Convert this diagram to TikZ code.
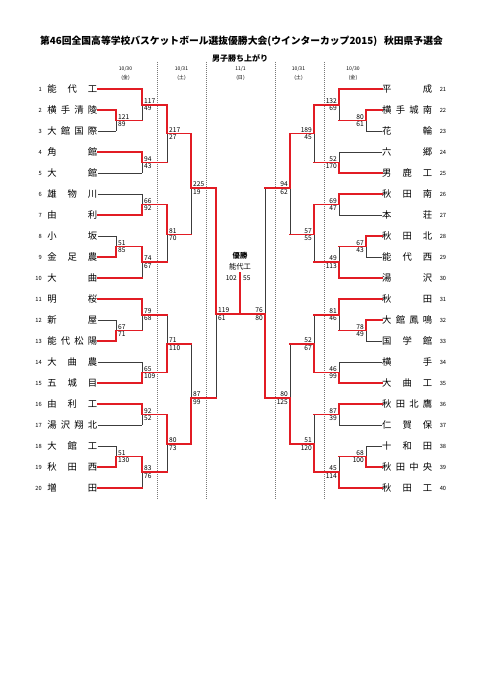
\documentclass[tikz,border=0pt]{standalone}
\usepackage{fontspec}
\setmainfont{Noto Sans CJK JP}
\definecolor{wred}{RGB}{226,28,36}
\definecolor{lgray}{RGB}{60,60,60}
\definecolor{dgray}{RGB}{120,120,120}
\pgfdeclarelayer{front}
\pgfsetlayers{main,front}
\tikzset{
  gl/.style={draw=lgray, line width=0.7pt},
  rl/.style={draw=wred, line width=1.25pt, line cap=rect},
  dotl/.style={draw=dgray, line width=0.5pt, densely dotted},
  sc/.style={font=\fontsize{5}{5.5}\selectfont, inner xsep=1.4pt, inner ysep=0.8pt},
  numf/.style={font=\fontsize{4.3}{5}\selectfont, inner sep=0pt},
  tnf/.style={font=\fontsize{7}{8}\selectfont, inner sep=0pt},
  datef/.style={font=\fontsize{3.8}{4}\selectfont, inner sep=0pt},
}
\newcommand\hf{\hfill{}}
% left team: index, name, x end, r/g
\newcommand\tL[4]{%
  \pgfmathsetmacro\yy{89+21*(#1-1)}%
  \node[numf, anchor=east] (nL#1) at (42,\yy) {#1};
  \node[tnf, anchor=west] (tL#1) at (47,\yy) {\makebox[37.5pt]{#2}};
  \ifx r#4
    \begin{pgfonlayer}{front}\draw[rl] (tL#1.east) -- (#3,\yy);\end{pgfonlayer}
  \else
    \draw[gl] (tL#1.east) -- (#3,\yy);
  \fi
}
\newcommand\tR[4]{%
  \pgfmathsetmacro\yy{89+21*(#1-21)}%
  \node[numf, anchor=west] (nR#1) at (439.5,\yy) {#1};
  \node[tnf, anchor=east] (tR#1) at (432.5,\yy) {\makebox[37.5pt]{#2}};
  \ifx r#4
    \begin{pgfonlayer}{front}\draw[rl] (tR#1.west) -- (#3,\yy);\end{pgfonlayer}
  \else
    \draw[gl] (tR#1.west) -- (#3,\yy);
  \fi
}
% match: x, ytop, ybot, yjoin, xnext, score top, score bottom, winner t/b
\newcommand\mL[8]{%
  \ifx t#8
    \draw[gl] (#1,#4) -- (#1,#3);
    \begin{pgfonlayer}{front}\draw[rl] (#1,#2) -- (#1,#4) -- (#5,#4);\end{pgfonlayer}
  \else
    \draw[gl] (#1,#2) -- (#1,#4);
    \begin{pgfonlayer}{front}\draw[rl] (#1,#3) -- (#1,#4) -- (#5,#4);\end{pgfonlayer}
  \fi
  \node[sc, anchor=south west] at (#1,#4) {#6};
  \node[sc, anchor=north west] at (#1,#4) {#7};
}
\newcommand\mR[8]{%
  \ifx t#8
    \draw[gl] (#1,#4) -- (#1,#3);
    \begin{pgfonlayer}{front}\draw[rl] (#1,#2) -- (#1,#4) -- (#5,#4);\end{pgfonlayer}
  \else
    \draw[gl] (#1,#2) -- (#1,#4);
    \begin{pgfonlayer}{front}\draw[rl] (#1,#3) -- (#1,#4) -- (#5,#4);\end{pgfonlayer}
  \fi
  \node[sc, anchor=south east] at (#1,#4) {#6};
  \node[sc, anchor=north east] at (#1,#4) {#7};
}
\begin{document}
\begin{tikzpicture}[x=0.75pt,y=-0.75pt]
\fill[white] (0,0) rectangle (481,680);
\useasboundingbox (0,0) rectangle (481,680);

% title
\node[inner sep=0pt, font=\bfseries] (title) at (241.5,41)
  {\resizebox{302pt}{!}{第46回全国高等学校バスケットボール選抜優勝大会(ウインターカップ2015)\hspace{0.7em}秋田県予選会}};
\node[inner sep=0pt, font=\bfseries\fontsize{6}{7}\selectfont] (sub) at (240,58) {男子勝ち上がり};

% dates
\node[datef] (d1) at (125.5,69) {10/30}; \node[datef] (w1) at (125.5,78) {(金)};
\node[datef] (d2) at (181.5,69) {10/31}; \node[datef] (w2) at (181.5,78) {(土)};
\node[datef] (d3) at (240.5,69) {11/1};  \node[datef] (w3) at (240.5,78) {(日)};
\node[datef] (d4) at (298.5,69) {10/31}; \node[datef] (w4) at (298.5,78) {(土)};
\node[datef] (d5) at (353,69) {10/30};   \node[datef] (w5) at (353,78) {(金)};

% dotted separators
\foreach \x in {157,206,275,324} \draw[dotl] (\x,62) -- (\x,500);

% left teams
\tL{1}{能\hf 代\hf 工}{142}{r}
\tL{2}{横\hf 手\hf 清\hf 陵}{116}{r}
\tL{3}{大\hf 館\hf 国\hf 際}{116}{g}
\tL{4}{角\hf 館}{142}{r}
\tL{5}{大\hf 館}{142}{g}
\tL{6}{雄\hf 物\hf 川}{142}{g}
\tL{7}{由\hf 利}{142}{r}
\tL{8}{小\hf 坂}{116}{g}
\tL{9}{金\hf 足\hf 農}{116}{r}
\tL{10}{大\hf 曲}{142}{r}
\tL{11}{明\hf 桜}{142}{r}
\tL{12}{新\hf 屋}{116}{g}
\tL{13}{能\hf 代\hf 松\hf 陽}{116}{r}
\tL{14}{大\hf 曲\hf 農}{142}{g}
\tL{15}{五\hf 城\hf 目}{142}{r}
\tL{16}{由\hf 利\hf 工}{142}{r}
\tL{17}{湯\hf 沢\hf 翔\hf 北}{142}{g}
\tL{18}{大\hf 館\hf 工}{116}{g}
\tL{19}{秋\hf 田\hf 西}{116}{r}
\tL{20}{増\hf 田}{142}{r}

% right teams
\tR{21}{平\hf 成}{339}{r}
\tR{22}{横\hf 手\hf 城\hf 南}{366}{r}
\tR{23}{花\hf 輪}{366}{g}
\tR{24}{六\hf 郷}{339}{g}
\tR{25}{男\hf 鹿\hf 工}{339}{r}
\tR{26}{秋\hf 田\hf 南}{339}{r}
\tR{27}{本\hf 荘}{339}{g}
\tR{28}{秋\hf 田\hf 北}{366}{r}
\tR{29}{能\hf 代\hf 西}{366}{g}
\tR{30}{湯\hf 沢}{339}{r}
\tR{31}{秋\hf 田}{339}{r}
\tR{32}{大\hf 館\hf 鳳\hf 鳴}{366}{r}
\tR{33}{国\hf 学\hf 館}{366}{g}
\tR{34}{横\hf 手}{339}{g}
\tR{35}{大\hf 曲\hf 工}{339}{r}
\tR{36}{秋\hf 田\hf 北\hf 鷹}{339}{r}
\tR{37}{仁\hf 賀\hf 保}{339}{g}
\tR{38}{十\hf 和\hf 田}{366}{g}
\tR{39}{秋\hf 田\hf 中\hf 央}{366}{r}
\tR{40}{秋\hf 田\hf 工}{339}{r}

% left round 1
\mL{116}{110}{131}{120.5}{142}{121}{89}{t}
\mL{116}{236}{257}{246.5}{142}{51}{85}{b}
\mL{116}{320}{341}{330.5}{142}{67}{71}{b}
\mL{116}{446}{467}{456.5}{142}{51}{130}{b}
% left round 2
\mL{142}{89}{120.5}{104.75}{167}{117}{49}{t}
\mL{142}{152}{173}{162.5}{167}{94}{43}{t}
\mL{142}{194}{215}{204.5}{167}{66}{92}{b}
\mL{142}{246.5}{278}{262.25}{167}{74}{67}{t}
\mL{142}{299}{330.5}{314.75}{167}{79}{68}{t}
\mL{142}{362}{383}{372.5}{167}{65}{109}{b}
\mL{142}{404}{425}{414.5}{167}{92}{52}{t}
\mL{142}{456.5}{488}{472.25}{167}{83}{76}{t}
% left round 3
\mL{167}{104.75}{162.5}{133.5}{191}{217}{27}{t}
\mL{167}{204.5}{262.25}{234.5}{191}{81}{70}{t}
\mL{167}{314.75}{372.5}{344}{191}{71}{110}{b}
\mL{167}{414.5}{472.25}{444}{191}{80}{73}{t}
% left round 4
\mL{191}{133.5}{234.5}{188}{216}{225}{19}{t}
\mL{191}{344}{444}{398}{216}{87}{99}{b}
% left semifinal
\mL{216}{188}{398}{314}{240}{119}{61}{t}

% right round 1
\mR{366}{110}{131}{120.5}{339}{80}{61}{t}
\mR{366}{236}{257}{246.5}{339}{67}{43}{t}
\mR{366}{320}{341}{330.5}{339}{78}{49}{t}
\mR{366}{446}{467}{456.5}{339}{68}{100}{b}
% right round 2
\mR{339}{89}{120.5}{104.75}{314}{132}{69}{t}
\mR{339}{152}{173}{162.5}{314}{52}{170}{b}
\mR{339}{194}{215}{204.5}{314}{69}{47}{t}
\mR{339}{246.5}{278}{262.25}{314}{49}{113}{b}
\mR{339}{299}{330.5}{314.75}{314}{81}{46}{t}
\mR{339}{362}{383}{372.5}{314}{46}{99}{b}
\mR{339}{404}{425}{414.5}{314}{87}{39}{t}
\mR{339}{456.5}{488}{472.25}{314}{45}{114}{b}
% right round 3
\mR{314}{104.75}{162.5}{133.5}{290}{189}{45}{t}
\mR{314}{204.5}{262.25}{234.5}{290}{57}{55}{t}
\mR{314}{314.75}{372.5}{344}{290}{52}{67}{b}
\mR{314}{414.5}{472.25}{444}{290}{51}{120}{b}
% right round 4
\mR{290}{133.5}{234.5}{188}{265}{94}{62}{t}
\mR{290}{344}{444}{398}{265}{80}{125}{b}
% right semifinal
\mR{265}{188}{398}{314}{240}{76}{80}{b}

% final
\coordinate (fin) at (240,273);
\coordinate (fbase) at (240,314);
\begin{pgfonlayer}{front}\draw[rl] (fbase) -- (fin);\end{pgfonlayer}
\node[sc, anchor=east] (sf1) at (239,278) {102};
\node[sc, anchor=west] (sf2) at (241,278) {55};
\node[inner sep=0pt, font=\bfseries\fontsize{5.5}{6}\selectfont] (champ) at (240,256) {優勝};
\node[inner sep=0pt, font=\fontsize{5.5}{6}\selectfont] (champn) at (240,267) {能代工};
\end{tikzpicture}
\end{document}
